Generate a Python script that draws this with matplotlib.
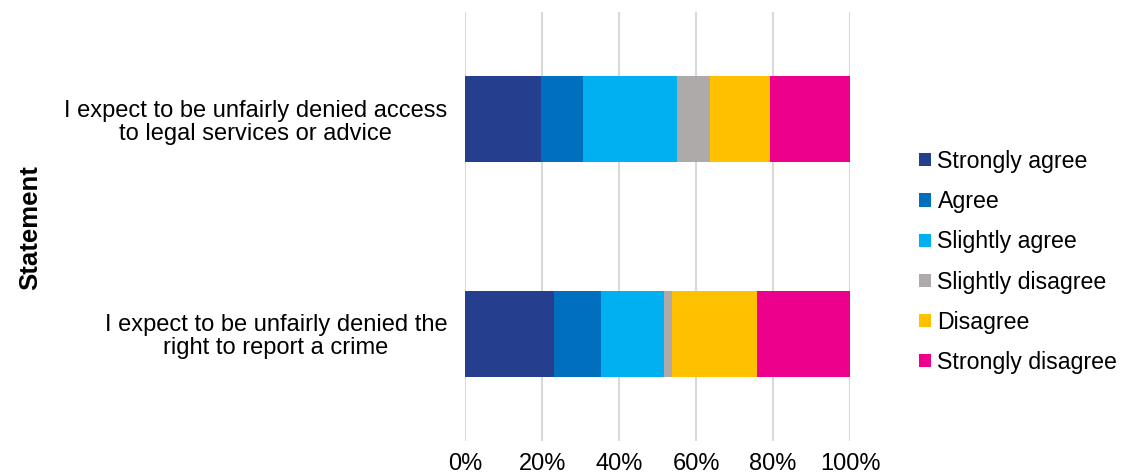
import matplotlib.pyplot as plt
from matplotlib.ticker import PercentFormatter

plt.rcParams['font.family'] = ['Liberation Sans', 'DejaVu Sans']

# statements, bottom to top as drawn
statements = ['I expect to be unfairly denied the\nright to report a crime',
              'I expect to be unfairly denied access\nto legal services or advice']
responses = ['Strongly agree', 'Agree', 'Slightly agree',
             'Slightly disagree', 'Disagree', 'Strongly disagree']
colors = ['#253f8e', '#006fbe', '#00b0f0', '#adaaa9', '#ffc000', '#ec008c']

strongly_agree = [23.1, 19.8]
agree = [12.1, 10.9]
slightly_agree = [16.4, 24.4]
slightly_disagree = [2.2, 8.6]
disagree = [22.0, 15.5]
strongly_disagree = [24.2, 20.8]

series = [strongly_agree, agree, slightly_agree,
          slightly_disagree, disagree, strongly_disagree]

fig = plt.figure(figsize=(11.26, 4.75), dpi=100)
ax = fig.add_axes([465.3 / 1126, 1 - 441 / 475, (850 - 465.3) / 1126, (441 - 12) / 475])

left = [0, 0]
for name, vals, c in zip(responses, series, colors):
    ax.barh(statements, vals, left=left, height=0.4, color=c, label=name, zorder=3)
    left = [l + v for l, v in zip(left, vals)]

ax.set_xlim(0, 100)
ax.set_ylim(-0.5, 1.5)
ax.xaxis.set_major_formatter(PercentFormatter(decimals=0))
ax.set_xticks(range(0, 101, 20))
ax.grid(axis='x', color='#d9d9d9', linewidth=1.5, zorder=0)
for s in ax.spines.values():
    s.set_visible(False)
ax.tick_params(axis='both', length=0, labelsize=17, colors='#000000')
ax.tick_params(axis='x', pad=9)
ax.tick_params(axis='y', pad=13)
for lbl in ax.get_yticklabels():
    lbl.set_multialignment('center')
    lbl.set_linespacing(1.05)

fig.text(30 / 1126, 1 - 228 / 475, 'Statement', rotation=90, fontsize=18.5,
         fontweight='bold', ha='center', va='center')

handles, labels = ax.get_legend_handles_labels()
fig.legend(handles, labels, loc='center left', bbox_to_anchor=(905 / 1126, 1 - 262 / 475),
           frameon=False, fontsize=16.7, handlelength=0.5, handleheight=0.5,
           handletextpad=0.3, labelspacing=0.74, borderaxespad=0.2)

fig.savefig('out.png', dpi=100)
